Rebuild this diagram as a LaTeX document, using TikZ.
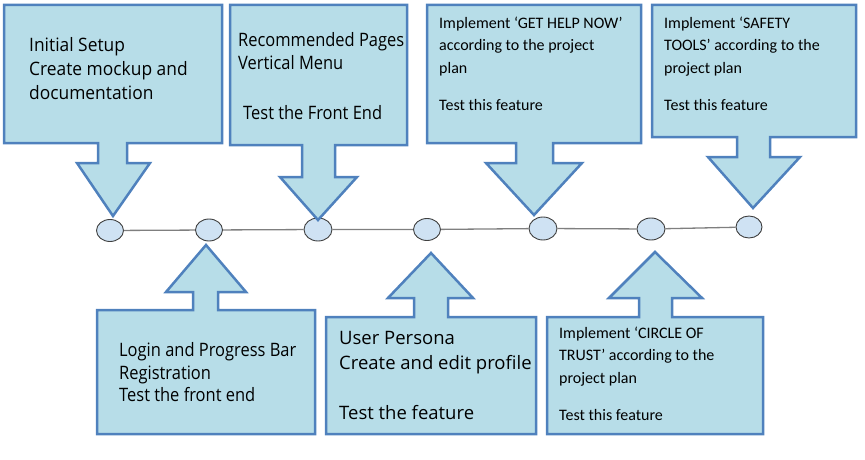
\documentclass[tikz,border=0pt]{standalone}
\usepackage{fontspec}
\setmainfont{Open Sans}
\newfontfamily\segoefont[FakeStretch=0.89]{Open Sans}
\newfontfamily\segoewide[FakeStretch=0.94]{Open Sans}
\newfontfamily\segoefull{Open Sans}
\newfontfamily\califont{Carlito}
\usetikzlibrary{shapes.geometric}
\definecolor{boxfill}{HTML}{B7DDE8}
\definecolor{boxline}{HTML}{4F81BD}
\definecolor{dotfill}{HTML}{CFE2F3}
\definecolor{dotline}{HTML}{404040}
\definecolor{tline}{HTML}{7F7F7F}
\begin{document}
\begin{tikzpicture}[x=1pt,y=-1pt,
  callout/.style={fill=boxfill,draw=boxline,line width=2.5pt,line join=miter},
  milestone/.style={ellipse,draw=dotline,fill=dotfill,line width=0.9pt,inner sep=0pt,minimum width=27pt,minimum height=22pt},
  timeline/.style={draw=tline,line width=1.3pt},
  txt/.style={anchor=base west,inner sep=0pt,text=black}]
\useasboundingbox (0,0) rectangle (865,460);
% milestones
\node[milestone] (m1) at (110,230.5) {};
\node[milestone] (m2) at (209,230) {};
\node[milestone,minimum width=28pt,minimum height=23pt] (m3) at (318,229.5) {};
\node[milestone] (m4) at (427,229.5) {};
\node[milestone,minimum width=28pt,minimum height=23pt] (m5) at (543,228.5) {};
\node[milestone,minimum width=28pt] (m6) at (651,229) {};
\node[milestone,minimum width=26pt] (m7) at (749,227) {};
\draw[timeline] (m1) -- (m2) (m2) -- (m3) (m3) -- (m4) (m4) -- (m5) (m5) -- (m6) (m6) -- (m7);
% downward callouts
\draw[callout] (4,5) -- (222,5) -- (222,143) -- (127,143) -- (127,163) -- (150,163) -- (113,216) -- (77,163) -- (98,163) -- (98,143) -- (4,143) -- cycle;
\draw[callout] (230,5) -- (407,5) -- (407,145) -- (335,145) -- (335,177) -- (357,177) -- (318,220) -- (280,177) -- (302,177) -- (302,145) -- (230,145) -- cycle;
\draw[callout] (427,5) -- (641,5) -- (641,143) -- (553,143) -- (553,163) -- (582,163) -- (534,215) -- (486,163) -- (516,163) -- (516,143) -- (427,143) -- cycle;
\draw[callout] (652,5) -- (856,5) -- (856,137) -- (770,137) -- (770,157) -- (800,157) -- (753,208) -- (708,157) -- (737,157) -- (737,137) -- (652,137) -- cycle;
% upward callouts
\draw[callout] (97,434) -- (97,310) -- (193,310) -- (193,292) -- (166,292) -- (206,245) -- (246,292) -- (218,292) -- (218,310) -- (315,310) -- (315,434) -- cycle;
\draw[callout] (326,434) -- (326,317) -- (414,317) -- (414,298) -- (388,298) -- (431,253) -- (473,298) -- (448,298) -- (448,317) -- (536,317) -- (536,434) -- cycle;
\draw[callout] (547,434) -- (547,317) -- (639,317) -- (639,298) -- (609,298) -- (655,252) -- (702,298) -- (672,298) -- (672,317) -- (763,317) -- (763,434) -- cycle;
% texts
\node[txt] (t1) at (29,51.7) {\segoewide\fontsize{18.5}{24}\selectfont\begin{tabular}[t]{@{}l@{}}Initial Setup\\Create mockup and\\documentation\end{tabular}};
\node[txt] (t2) at (238,46.7) {\segoefont\fontsize{18.5}{23}\selectfont\begin{tabular}[t]{@{}l@{}}Recommended Pages\\Vertical Menu\\[27pt]\hspace{5pt}Test the Front End\end{tabular}};
\node[txt] (t3) at (439,28.3) {\califont\fontsize{16}{22.5}\selectfont\begin{tabular}[t]{@{}l@{}}Implement ‘GET HELP NOW’\\according to the project\\plan\\[14.5pt]Test this feature\end{tabular}};
\node[txt] (t4) at (664,28.3) {\califont\fontsize{16}{22.5}\selectfont\begin{tabular}[t]{@{}l@{}}Implement ‘SAFETY\\TOOLS’ according to the\\project plan\\[14.5pt]Test this feature\end{tabular}};
\node[txt] (t5) at (119,356.7) {\segoefont\fontsize{18.5}{22.5}\selectfont\begin{tabular}[t]{@{}l@{}}Login and Progress Bar\\Registration\\Test the front end\end{tabular}};
\node[txt] (t6) at (339,344.3) {\segoefull\fontsize{18.5}{25}\selectfont\begin{tabular}[t]{@{}l@{}}User Persona\\Create and edit profile\\[24.8pt]Test the feature\end{tabular}};
\node[txt] (t7) at (559,338.3) {\califont\fontsize{16}{22.6}\selectfont\begin{tabular}[t]{@{}l@{}}Implement ‘CIRCLE OF\\TRUST’ according to the\\project plan\\[14pt]Test this feature\end{tabular}};
\end{tikzpicture}
\end{document}
